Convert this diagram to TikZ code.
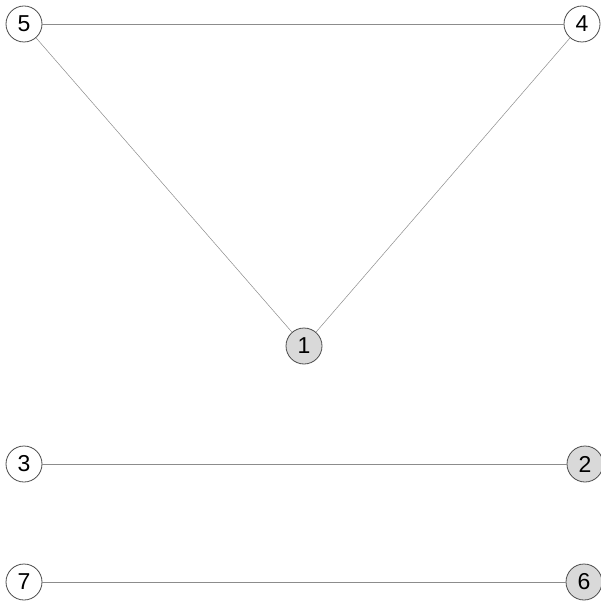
\documentclass[tikz,border=0pt]{standalone}
\usepackage{fontspec}
\setmainfont{Liberation Sans}
\begin{document}
\begin{tikzpicture}[x=1pt,y=-1pt,
  vert/.style={circle,draw=black!70,line width=0.8pt,minimum size=36pt,inner sep=0pt,font=\fontsize{23}{23}\selectfont},
  gv/.style={vert,fill=black!15},
  wv/.style={vert,fill=white},
  edge/.style={draw=black!45,line width=0.5pt}]
\useasboundingbox (0,0) rectangle (601,601);
\node[wv] (n5) at (24,24) {5};
\node[wv] (n4) at (582,24) {4};
\node[gv] (n1) at (304,346) {1};
\node[wv] (n3) at (24,464) {3};
\node[gv] (n2) at (585,464) {2};
\node[wv] (n7) at (24,582) {7};
\node[gv] (n6) at (584,582) {6};
\draw[edge] (n5) -- (n4);
\draw[edge] (n5) -- (n1);
\draw[edge] (n4) -- (n1);
\draw[edge] (n3) -- (n2);
\draw[edge] (n7) -- (n6);
\end{tikzpicture}
\end{document}
